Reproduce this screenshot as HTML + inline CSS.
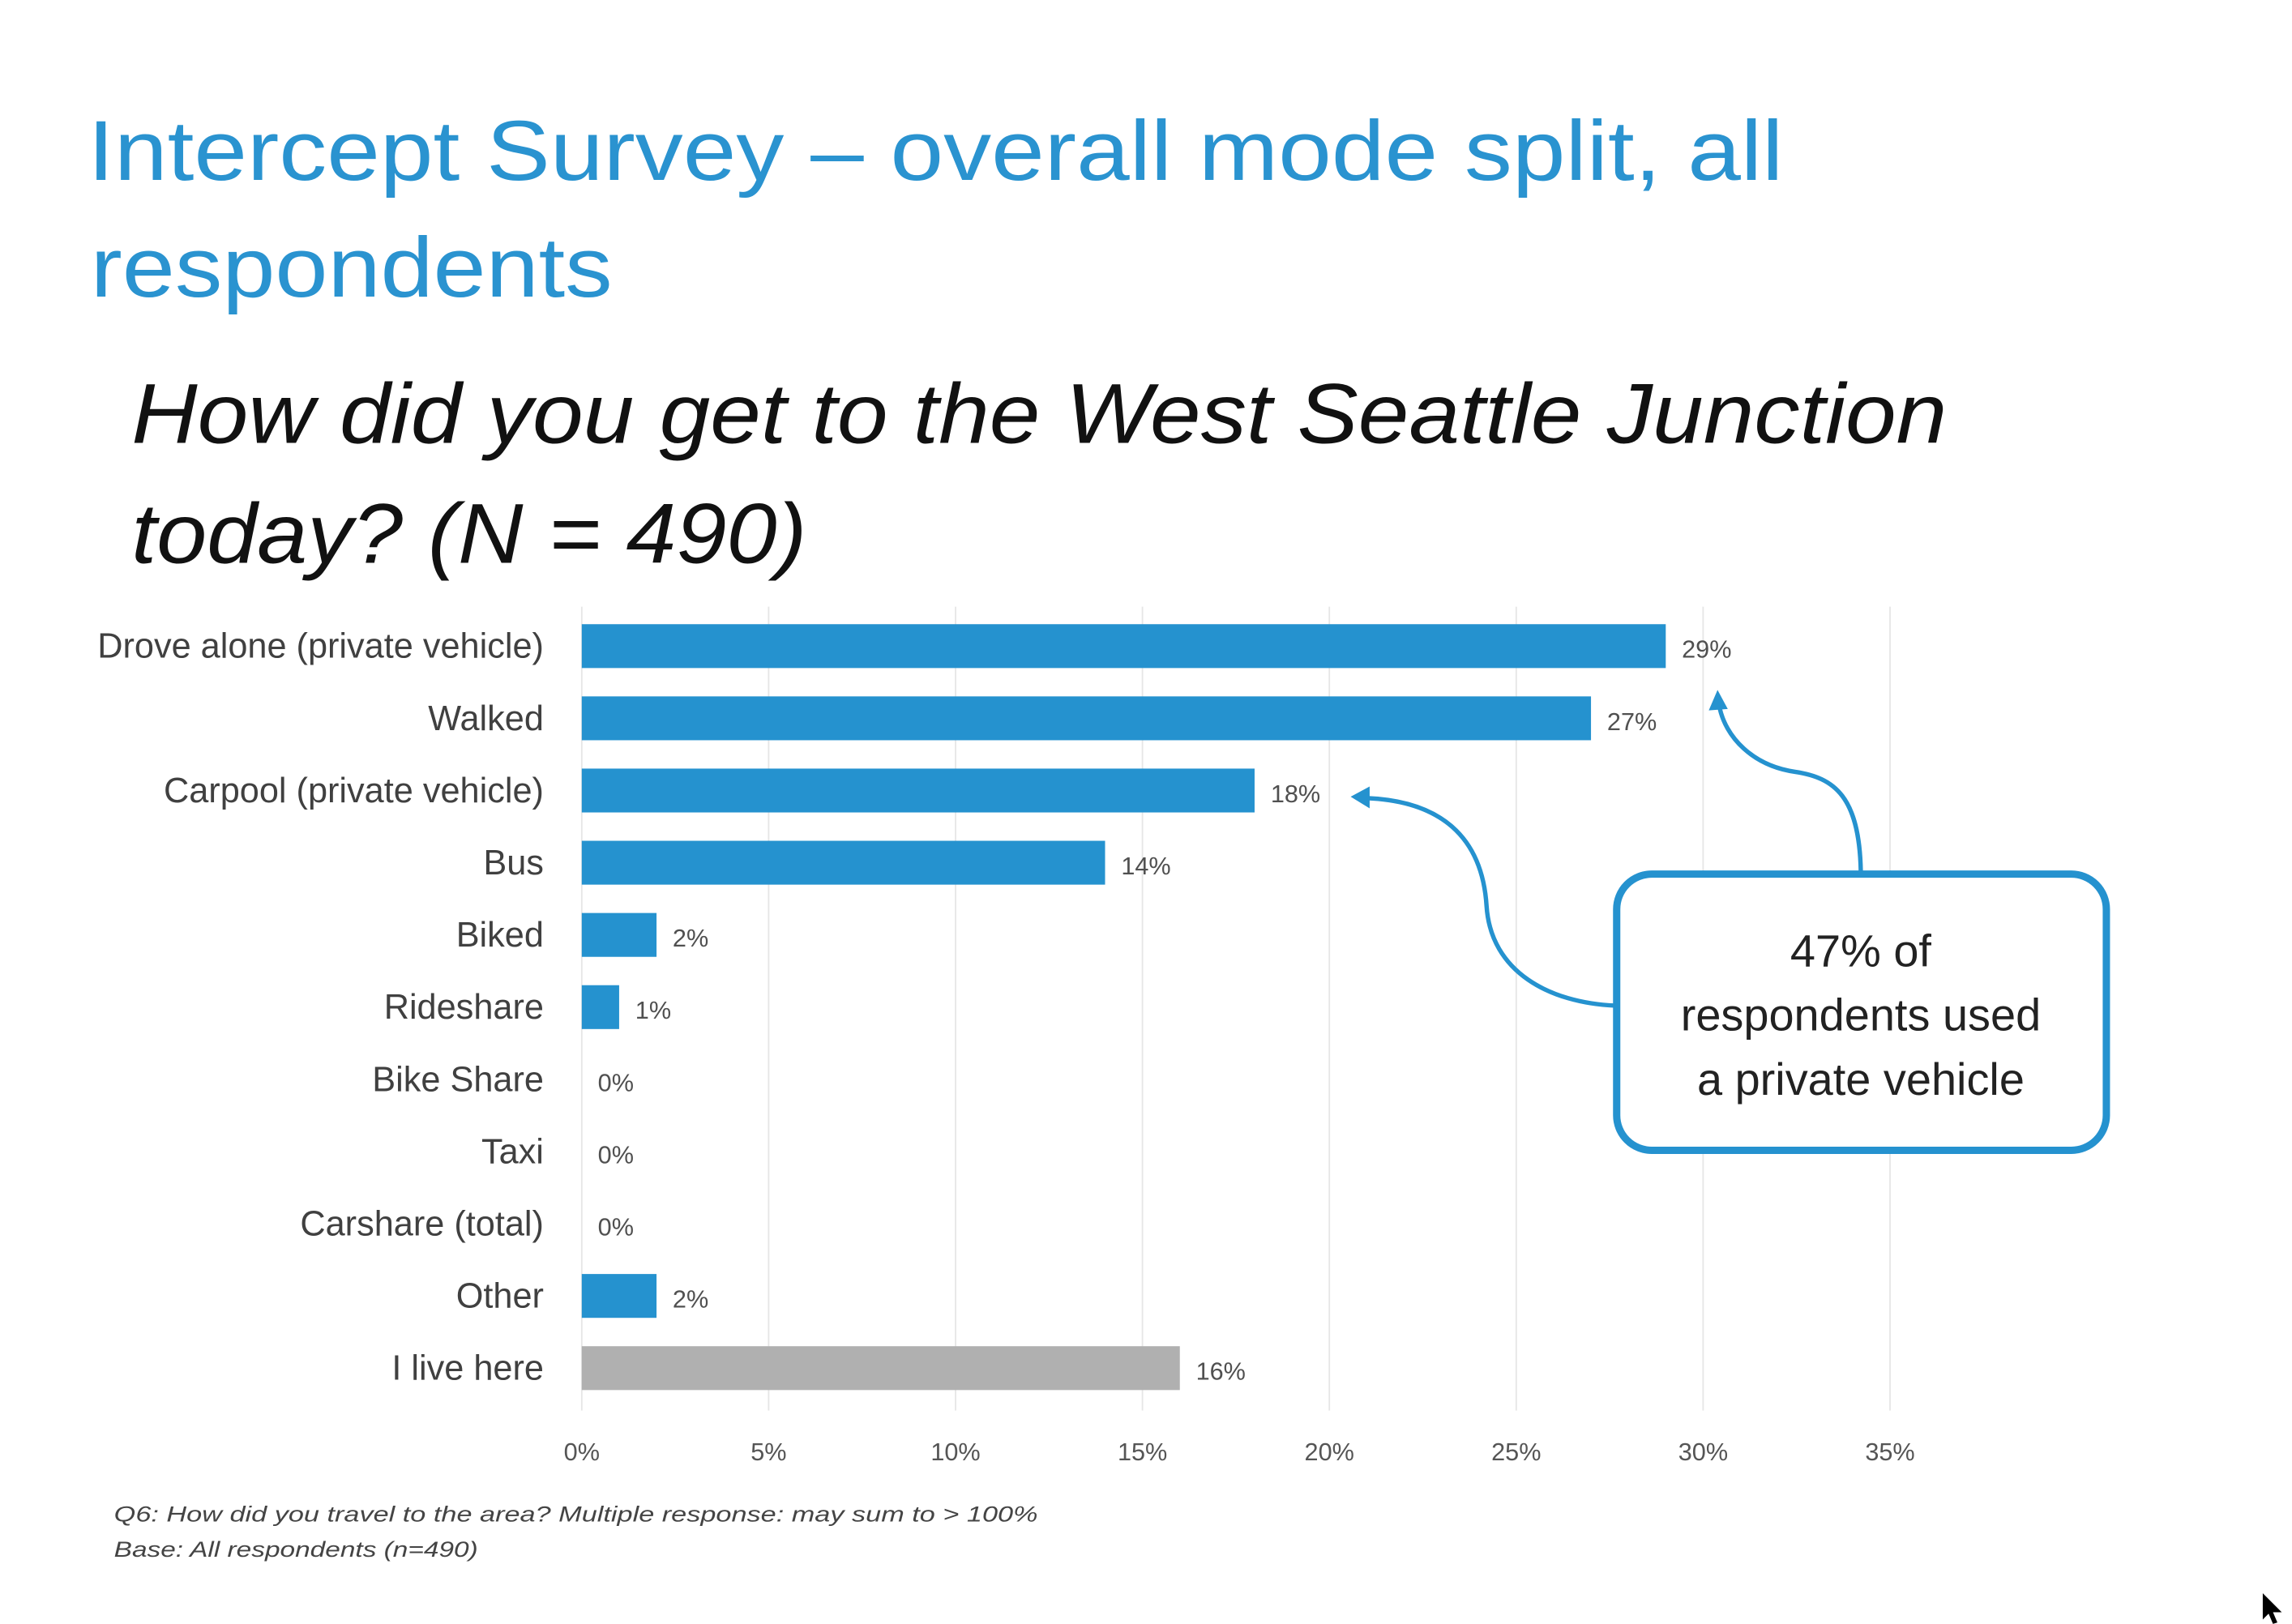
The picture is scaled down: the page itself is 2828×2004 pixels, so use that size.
<!DOCTYPE html>
<html><head><meta charset="utf-8"><style>
html,body{margin:0;padding:0;background:#fff;}
svg{display:block;}
text{font-family:"Liberation Sans",sans-serif;}
</style></head><body>
<svg id="chart" width="2828" height="2004" viewBox="0 0 1568 1111" xmlns="http://www.w3.org/2000/svg">
<text x="60" y="123" font-size="58" fill="#2a93d0" textLength="1160" lengthAdjust="spacingAndGlyphs">Intercept Survey – overall mode split, all</text>
<text x="62" y="203" font-size="58" fill="#2a93d0" textLength="357" lengthAdjust="spacingAndGlyphs">respondents</text>
<text x="90" y="303" font-size="58" font-style="italic" fill="#111" textLength="1242" lengthAdjust="spacingAndGlyphs">How did you get to the West Seattle Junction</text>
<text x="90" y="385" font-size="58" font-style="italic" fill="#111" textLength="462" lengthAdjust="spacingAndGlyphs">today? (N = 490)</text>
<g id="grid"></g>
<g id="bars"></g>
<g id="xticks"></g>
<g>
<rect x="1106" y="598" width="335" height="189" rx="24" fill="#fff" stroke="#2592cf" stroke-width="5"/>
<text font-size="31" fill="#222" text-anchor="middle"><tspan x="1273" y="661">47% of</tspan><tspan x="1273" y="705">respondents used</tspan><tspan x="1273" y="749">a private vehicle</tspan></text>
<path d="M1273,596 C1272,545 1255,532 1228,528 C1200,524 1180,505 1176,482" fill="none" stroke="#2592cf" stroke-width="3"/>
<polygon points="1175,472 1169,486 1182,485" fill="#2592cf"/>
<path d="M1105,688 C1060,686 1020,665 1017,620 C1014,572 985,548 935,546" fill="none" stroke="#2592cf" stroke-width="3"/>
<polygon points="924,545 937,538 937,553" fill="#2592cf"/>
</g>
<text x="78" y="1041" font-size="15" font-style="italic" fill="#444" textLength="632" lengthAdjust="spacingAndGlyphs">Q6: How did you travel to the area?  Multiple response: may sum to &gt; 100%</text>
<text x="78" y="1065" font-size="15" font-style="italic" fill="#444" textLength="249" lengthAdjust="spacingAndGlyphs">Base: All respondents (n=490)</text>
<polygon points="1548,1090 1548,1108 1552,1104 1555,1111 1558,1110 1555,1103 1561,1103" fill="#000"/>
</svg>
<script>
const categories=["Drove alone (private vehicle)","Walked","Carpool (private vehicle)","Bus","Biked","Rideshare","Bike Share","Taxi","Carshare (total)","Other","I live here"];
const values=[29,27,18,14,2,1,0,0,0,2,16];
const valueLabels=["29%","27%","18%","14%","2%","1%","0%","0%","0%","2%","16%"];
const tickValues=[0,5,10,15,20,25,30,35];
const tickLabels=["0%","5%","10%","15%","20%","25%","30%","35%"];
const NS="http://www.w3.org/2000/svg";
const x0=398, pxPer=(1293-398)/35;
function xs(v){return x0+v*pxPer;}
const rowTop=442, rowStep=(936-442)/10, barH=30;
function ys(i){return rowTop+i*rowStep;}
function mk(tag,attrs,parent){const e=document.createElementNS(NS,tag);for(const k in attrs)e.setAttribute(k,attrs[k]);parent.appendChild(e);return e;}
const grid=document.getElementById('grid'),bars=document.getElementById('bars'),xt=document.getElementById('xticks');
tickValues.forEach((t,i)=>{
  const l=mk('line',{x1:xs(t),x2:xs(t),y1:415,y2:965,stroke:'#e6e6e6','stroke-width':1},grid);
  
  
  const tx=mk('text',{x:xs(t),y:999,'font-size':17,fill:'#555','text-anchor':'middle'},xt);
  tx.textContent=tickLabels[i];
  
  
});
categories.forEach((c,i)=>{
  const cy=ys(i);
  const lab=mk('text',{x:372,y:cy+8,'font-size':24,fill:'#404040','text-anchor':'end'},bars);
  lab.textContent=c;
  
  
  if(values[i]>0){
    const r=mk('rect',{x:x0,y:cy-barH/2,width:xs(values[i])-x0,height:barH,fill:i===10?'#b0b0b0':'#2592cf'},bars);
    
    
  }
  const v=mk('text',{x:xs(values[i])+11,y:cy+8,'font-size':17,fill:'#505050'},bars);
  v.textContent=valueLabels[i];
  
  
});
</script>
</body></html>
